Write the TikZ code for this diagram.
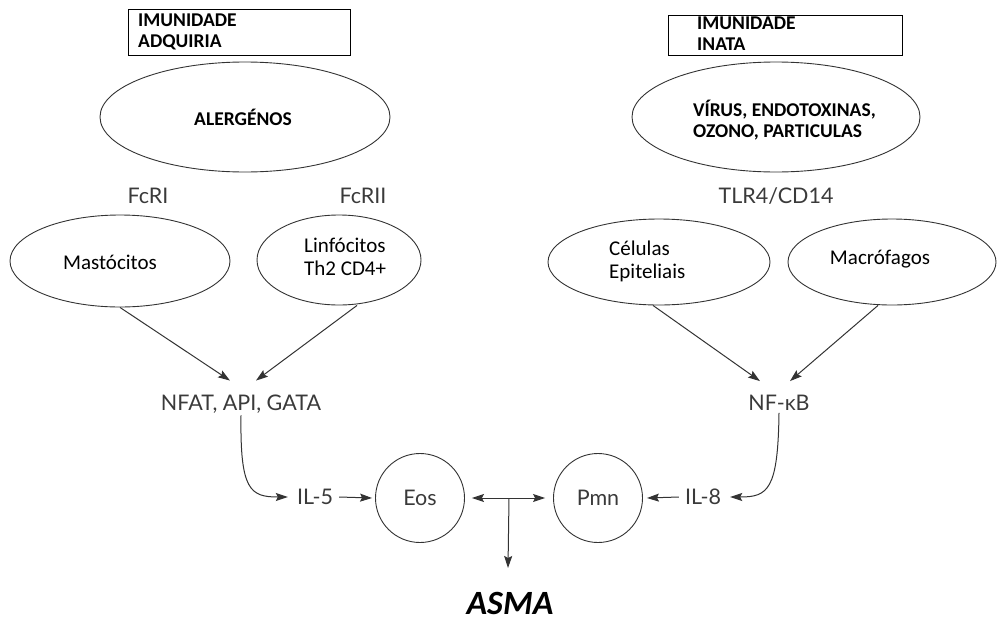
\documentclass[tikz,border=0pt]{standalone}
\usepackage{fontspec}
\setmainfont{Carlito}
\newfontfamily\gill{Lato}
\usetikzlibrary{arrows.meta,shapes.geometric,calc}
\definecolor{ln}{HTML}{333333}
\definecolor{gtx}{HTML}{3A3A3A}
\begin{document}
\begin{tikzpicture}[x=1pt,y=-1pt,
  ell/.style={draw=ln,line width=0.9pt,ellipse,inner sep=0pt},
  circ/.style={draw=ln,line width=0.9pt,circle,minimum size=89pt,inner sep=0pt},
  hdr/.style={draw=black,line width=1pt,rectangle,inner sep=0pt},
  btxt/.style={font=\fontsize{19.5}{21}\selectfont\bfseries,align=left,inner sep=0pt},
  ctxt/.style={font=\fontsize{21}{23}\selectfont,align=left,inner sep=0pt},
  gtxt/.style={font=\gill\fontsize{21.5}{24}\selectfont,text=gtx,inner sep=6pt},
  arr/.style={draw=ln,line width=1pt,-{Stealth[length=12pt,width=8pt,inset=2pt]}},
  darr/.style={draw=ln,line width=1pt,{Stealth[length=12pt,width=8pt,inset=2pt]}-{Stealth[length=12pt,width=8pt,inset=2pt]}}]
\useasboundingbox (0,0) rectangle (998,624);

% header boxes
\node[hdr,minimum width=222pt,minimum height=46pt] (boxA) at (239,32) {};
\node[btxt,anchor=west] (boxAt) at (138,32) {IMUNIDADE\\ADQUIRIA};
\node[hdr,minimum width=234pt,minimum height=40pt] (boxI) at (785,35) {};
\node[btxt,anchor=west] (boxIt) at (697,34) {IMUNIDADE\\INATA};

% top ellipses
\node[ell,minimum width=290pt,minimum height=110pt] (aler) at (245,117) {};
\node[btxt] (alert) at (243,117) {ALERGÉNOS};
\node[ell,minimum width=288pt,minimum height=110pt] (virus) at (776,117) {};
\node[btxt,anchor=west] (virust) at (693,120) {VÍRUS, ENDOTOXINAS,\\OZONO, PARTICULAS};

% receptor labels
\node[gtxt] (fcri) at (148,196) {FcRI};
\node[gtxt] (fcrii) at (363,196) {FcRII};
\node[gtxt] (tlr) at (776,196) {TLR4/CD14};

% cell ellipses
\node[ell,minimum width=220pt,minimum height=92pt] (mast) at (120,261) {};
\node[ctxt] (mastt) at (110,262) {Mastócitos};
\node[ell,minimum width=164pt,minimum height=90pt] (linf) at (339,260) {};
\node[ctxt,anchor=west] (linft) at (304,257) {Linfócitos\\Th2 CD4+};
\node[ell,minimum width=222pt,minimum height=86pt] (epit) at (659,262) {};
\node[ctxt,anchor=west] (epitt) at (609,261) {Células\\Epiteliais};
\node[ell,minimum width=208pt,minimum height=86pt] (macr) at (892,262) {};
\node[ctxt] (macrt) at (880,259) {Macrófagos};

% transcription factors
\node[gtxt] (nfat) at (241,404) {NFAT, API, GATA};
\node[gtxt] (nfkb) at (779,403) {NF-κB};

% cytokines and cells
\node[gtxt] (il5) at (315,497) {IL-5};
\node[gtxt] (il8) at (703,497) {IL-8};
\node[circ,font=\gill\fontsize{21.5}{24}\selectfont,text=gtx] (eos) at (420,498) {Eos};
\node[circ,font=\gill\fontsize{21.5}{24}\selectfont,text=gtx] (pmn) at (598,498) {Pmn};

% outcome
\node[font=\fontsize{34}{38}\selectfont\bfseries\itshape,inner sep=0pt] (asma) at (510,603) {ASMA};

% connectors
\draw[arr] (mast.south) -- ([xshift=-11pt,yshift=8pt]nfat.north);
\draw[arr] ([xshift=18pt]linf.south) -- ([xshift=15pt,yshift=8pt]nfat.north);
\draw[arr] ([xshift=-6pt]epit.south) -- ([xshift=-19pt,yshift=8pt]nfkb.north);
\draw[arr] ([xshift=-14pt]macr.south) -- ([xshift=11pt,yshift=8pt]nfkb.north);

\draw[arr] ([yshift=4pt]nfat.south) .. controls (240,490) and (250,497) .. ([xshift=-3pt]il5.west);
\draw[arr] (il5.east) -- ([xshift=-3pt]eos.west);
\draw[arr] ([yshift=4pt]nfkb.south) .. controls (778,490) and (768,497) .. ([xshift=3pt]il8.east);
\draw[arr] (il8.west) -- ([xshift=4pt]pmn.east);

\draw[darr,shorten <=7pt,shorten >=8pt] (eos.east) -- (pmn.west);
\coordinate (mid) at ($(eos.east)!0.5!(pmn.west)$);
\coordinate (down) at (508,568);
\draw[arr] (mid) -- (down);
\end{tikzpicture}
\end{document}
